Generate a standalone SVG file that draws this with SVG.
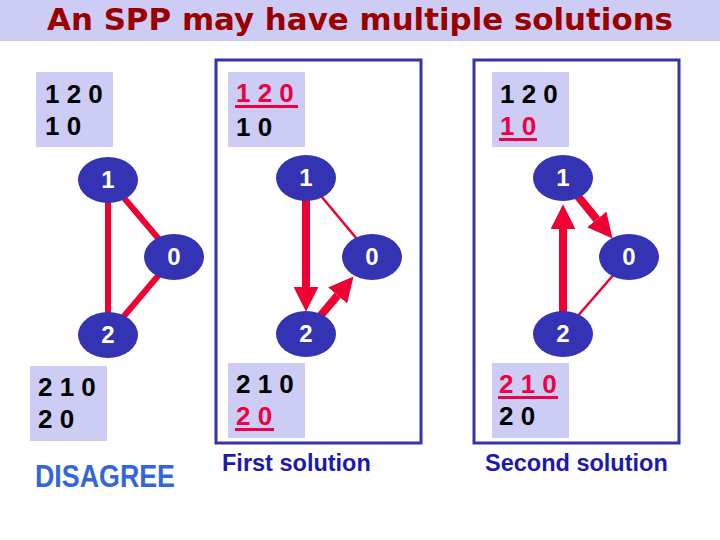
<svg xmlns="http://www.w3.org/2000/svg" width="720" height="540" viewBox="0 0 720 540">
<defs>
<style>
.band{fill:#ccccf5}
.lbl{fill:#ccccf5}
.t{font-family:"Liberation Sans",Arial,sans-serif;font-weight:bold}
.num{font-size:26px;fill:#000}
.red{fill:#ee0044}
.ul{fill:#ee0044}
.frame{fill:none;stroke:#3333aa;stroke-width:3}
.node ellipse{fill:#3333b3}
.node text{font-family:"Liberation Sans",Arial,sans-serif;font-weight:bold;font-size:24px;fill:#fff;text-anchor:middle}
.thick{stroke:#ee0033;stroke-width:6;fill:none}
.thin{stroke:#ee0033;stroke-width:2.5;fill:none}
.arrow{stroke:#ee0033;stroke-width:8;fill:none;marker-end:url(#head)}
</style>
<marker id="head" viewBox="0 0 10 10" refX="0" refY="5" markerWidth="3.1" markerHeight="3.1" orient="auto">
<path d="M0,0 L10,5 L0,10 z" fill="#ee0033"/>
</marker>
</defs>
<rect width="720" height="540" fill="#fff"/>
<rect class="band" x="0" y="0" width="720" height="41"/>
<text x="360" y="30" font-family="'DejaVu Sans','Liberation Sans',sans-serif" font-weight="bold" font-size="30" fill="#990000" text-anchor="middle" textLength="626" lengthAdjust="spacingAndGlyphs">An SPP may have multiple solutions</text>

<g id="frames">
<rect class="frame" x="216" y="60" width="205" height="383"/>
<rect class="frame" x="474" y="60" width="205" height="383"/>
</g>

<g id="labels">
<rect class="lbl" x="36" y="72" width="77" height="75"/>
<text class="t num" x="45" y="103">1 2 0</text>
<text class="t num" x="45" y="135">1 0</text>

<rect class="lbl" x="228" y="72" width="77" height="75"/>
<text class="t num red" x="236" y="102">1 2 0</text>
<rect class="ul" x="235" y="105" width="63" height="3"/>
<text class="t num" x="236" y="136">1 0</text>

<rect class="lbl" x="492" y="72" width="77" height="75"/>
<text class="t num" x="500" y="103">1 2 0</text>
<text class="t num red" x="500" y="135">1 0</text>
<rect class="ul" x="499" y="138" width="38" height="3"/>

<rect class="lbl" x="30" y="366" width="77" height="75"/>
<text class="t num" x="38" y="396">2 1 0</text>
<text class="t num" x="38" y="428">2 0</text>

<rect class="lbl" x="228" y="363" width="77" height="75"/>
<text class="t num" x="236" y="393">2 1 0</text>
<text class="t num red" x="236" y="425">2 0</text>
<rect class="ul" x="235" y="428" width="39" height="3"/>

<rect class="lbl" x="492" y="363" width="77" height="75"/>
<text class="t num red" x="499" y="393">2 1 0</text>
<rect class="ul" x="498" y="396" width="60" height="3"/>
<text class="t num" x="499" y="425">2 0</text>
</g>

<g id="connectors">
<line class="thick" x1="108" y1="179" x2="108" y2="335"/>
<line class="thick" x1="108" y1="179" x2="174" y2="257"/>
<line class="thick" x1="174" y1="257" x2="108" y2="335"/>

<line class="thin" x1="306" y1="178" x2="372" y2="257"/>
<line class="arrow" x1="306" y1="190" x2="306" y2="287"/>
<line class="arrow" x1="306" y1="333" x2="337.6" y2="295.4"/>

<line class="thin" x1="629" y1="257" x2="563" y2="333"/>
<line class="arrow" x1="563" y1="320" x2="563" y2="229"/>
<line class="arrow" x1="563" y1="178" x2="596.8" y2="219.4"/>
</g>

<g id="node-l1" class="node"><ellipse cx="108" cy="180" rx="30" ry="23"/><text x="108" y="188">1</text></g>
<g id="node-l0" class="node"><ellipse cx="174" cy="257" rx="30" ry="23"/><text x="174" y="265">0</text></g>
<g id="node-l2" class="node"><ellipse cx="108" cy="335" rx="30" ry="23"/><text x="108" y="343">2</text></g>

<g id="node-m1" class="node"><ellipse cx="306" cy="178" rx="30" ry="23"/><text x="306" y="186">1</text></g>
<g id="node-m0" class="node"><ellipse cx="372" cy="257" rx="30" ry="23"/><text x="372" y="265">0</text></g>
<g id="node-m2" class="node"><ellipse cx="306" cy="334" rx="30" ry="23"/><text x="306" y="342">2</text></g>

<g id="node-r1" class="node"><ellipse cx="563" cy="178" rx="30" ry="23"/><text x="563" y="186">1</text></g>
<g id="node-r0" class="node"><ellipse cx="629" cy="257" rx="30" ry="23"/><text x="629" y="265">0</text></g>
<g id="node-r2" class="node"><ellipse cx="563" cy="334" rx="30" ry="23"/><text x="563" y="342">2</text></g>

<g id="captions">
<text class="t" x="35" y="487" font-size="32" fill="#3366dd" textLength="140" lengthAdjust="spacingAndGlyphs">DISAGREE</text>
<text class="t" x="222" y="471" font-size="23.5" fill="#1a1ab0">First solution</text>
<text class="t" x="485" y="471" font-size="23.5" fill="#1a1ab0">Second solution</text>
</g>
</svg>
